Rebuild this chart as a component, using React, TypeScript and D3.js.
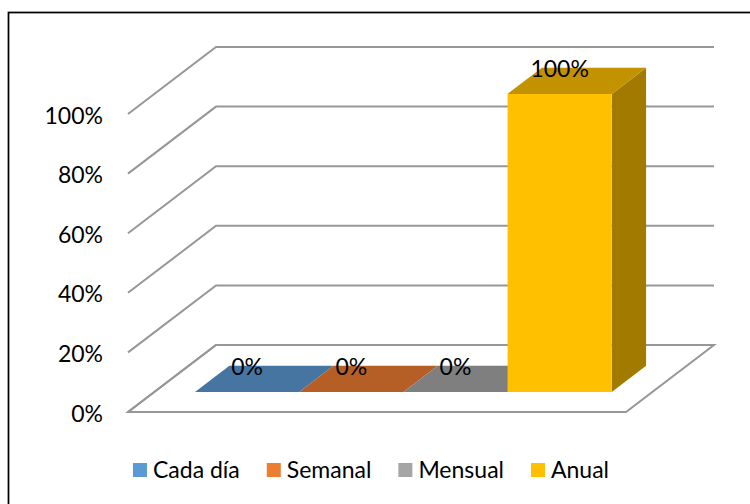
import React, { useRef, useEffect } from "react";
import * as d3 from "d3";

const categories = ["Cada día", "Semanal", "Mensual", "Anual"];
const values = [0, 0, 0, 1];
const valueLabels = ["0%", "0%", "0%", "100%"];
const tickValues = [0, 0.2, 0.4, 0.6, 0.8, 1];
const tickLabels = ["0%", "20%", "40%", "60%", "80%", "100%"];

// front / top / side shades per series
const legendColors = ["#5B9BD5", "#ED7D31", "#A5A5A5", "#FFC000"];
const topColors = ["#4675A2", "#B55E25", "#7F7F7F", "#C39200"];
const sideColors = ["#3A6186", "#964D1E", "#6A6A6A", "#A37A00"];

const W = 750;
const H = 504;
const DEPTH_X = 88;
const DEPTH_Y = -67;
const Z0 = 0.3;
const Z1 = 0.69;
const FONT = "Lato, 'Open Sans', sans-serif";
const FS = 23;

function App() {
  const svgRef = useRef<SVGSVGElement>(null);

  useEffect(() => {
    const svg = d3.select(svgRef.current);
    svg.selectAll("*").remove();

    const x = d3
      .scaleBand()
      .domain(categories)
      .range([128, 626])
      .paddingInner(0)
      .paddingOuter(0.39);

    const y = d3.scaleLinear().domain([0, 1]).range([412, 114]);

    // project a point (front-plane x, value, depth 0..1) to the screen
    const P = (px: number, v: number, z: number): [number, number] => [
      px + z * DEPTH_X,
      y(v) + z * DEPTH_Y,
    ];
    const poly = (pts: [number, number][]) =>
      pts.map((p) => p.join(",")).join(" ");

    // chart border
    svg
      .append("rect")
      .attr("x", 8.5)
      .attr("y", 12.5)
      .attr("width", 780)
      .attr("height", 540)
      .attr("fill", "none")
      .attr("stroke", "#000")
      .attr("stroke-width", 1.75);

    const grid = svg.append("g").attr("stroke", "#979797").attr("stroke-width", 2).attr("fill", "none");
    const [left, right] = x.range();

    // floor
    grid
      .append("polygon")
      .attr("points", poly([P(left, 0, 0), P(right, 0, 0), P(right, 0, 1), P(left, 0, 1)]));

    // back wall + side wall grid lines
    tickValues.forEach((t) => {
      grid
        .append("polyline")
        .attr("points", poly([P(left, t, 0), P(left, t, 1), P(right, t, 1)]));
    });

    // y tick labels
    svg
      .append("g")
      .selectAll("text")
      .data(tickValues)
      .join("text")
      .attr("x", 103)
      .attr("y", (d) => y(d))
      .attr("dy", "0.42em")
      .attr("text-anchor", "end")
      .attr("font-family", FONT)
      .attr("font-size", FS)
      .attr("fill", "#000")
      .text((d, i) => tickLabels[i]);

    // bars
    const bars = svg.append("g");
    categories.forEach((c, i) => {
      const x0 = x(c) as number;
      const x1 = x0 + x.bandwidth();
      const v = values[i];
      const g = bars.append("g");
      if (v > 0) {
        g.append("polygon")
          .attr("points", poly([P(x1, 0, Z0), P(x1, 0, Z1), P(x1, v, Z1), P(x1, v, Z0)]))
          .attr("fill", sideColors[i]);
        g.append("polygon")
          .attr("points", poly([P(x0, 0, Z0), P(x1, 0, Z0), P(x1, v, Z0), P(x0, v, Z0)]))
          .attr("fill", legendColors[i]);
      }
      g.append("polygon")
        .attr("points", poly([P(x0, v, Z0), P(x1, v, Z0), P(x1, v, Z1), P(x0, v, Z1)]))
        .attr("fill", topColors[i]);
    });

    // data labels
    svg
      .append("g")
      .selectAll("text")
      .data(categories)
      .join("text")
      .attr("x", (d) => (x(d) as number) + x.bandwidth() / 2 + Z0 * DEPTH_X)
      .attr("y", (d, i) => P(0, values[i], Z1)[1])
      .attr("dy", "0.38em")
      .attr("text-anchor", "middle")
      .attr("font-family", FONT)
      .attr("font-size", FS)
      .attr("fill", "#000")
      .text((d, i) => valueLabels[i]);

    // legend
    const legend = svg.append("g").attr("font-family", FONT).attr("font-size", FS);
    const items = legend
      .selectAll("g")
      .data(categories)
      .join("g");
    items
      .append("rect")
      .attr("y", -15)
      .attr("width", 14)
      .attr("height", 14)
      .attr("fill", (d, i) => legendColors[i]);
    items
      .append("text")
      .attr("x", 20)
      .attr("fill", "#000")
      .text((d) => d);

    const widths: number[] = [];
    items.each(function () {
      widths.push((d3.select(this).select("text").node() as SVGTextElement).getComputedTextLength());
    });
    const gap = 27;
    const total = d3.sum(widths, (w) => 20 + w) + gap * (widths.length - 1);
    let cx = 371 - total / 2;
    items.attr("transform", (d, i) => {
      const t = `translate(${cx},478)`;
      cx += 20 + widths[i] + gap;
      return t;
    });
  }, []);

  return (
    <svg
      ref={svgRef}
      width={W}
      height={H}
      style={{ position: "absolute", left: 0, top: 0, background: "#fff" }}
    />
  );
}

export default App;
